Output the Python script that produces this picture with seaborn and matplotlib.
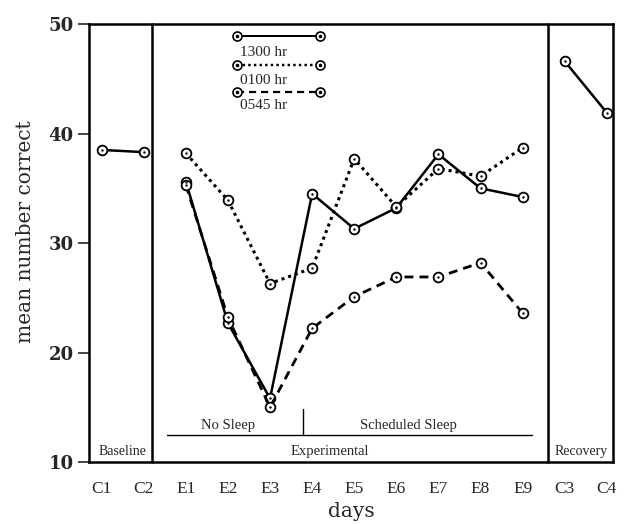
import matplotlib
matplotlib.use("Agg")
import matplotlib.pyplot as plt
import seaborn as sns
import numpy as np
import pandas as pd

# ---------------- data ----------------
days = ["C1", "C2", "E1", "E2", "E3", "E4", "E5", "E6", "E7", "E8", "E9", "C3", "C4"]
baseline_days = ["C1", "C2"]
baseline_vals = [38.5, 38.3]
recovery_days = ["C3", "C4"]
recovery_vals = [46.6, 41.9]
exp_days = ["E1", "E2", "E3", "E4", "E5", "E6", "E7", "E8", "E9"]
s1300 = [35.6, 22.7, 15.8, 34.5, 31.3, 33.2, 38.1, 35.0, 34.2]
s0100 = [38.2, 33.9, 26.3, 27.7, 37.7, 33.3, 36.8, 36.1, 38.7]
s0545 = [35.3, 23.2, 15.0, 22.2, 25.1, 26.9, 26.9, 28.2, 23.6]
series_labels = ["1300 hr", "0100 hr", "0545 hr"]
y_ticks = [10, 20, 30, 40, 50]

# ---------------- style ----------------
sns.set_style("white")
plt.rcParams["font.family"] = ["Liberation Serif", "DejaVu Serif"]

fig = plt.figure(figsize=(6.25, 5.24), dpi=100)
ax = fig.add_axes([0.1424, 0.1183, 0.8386, 0.8359])

pos = {d: i for i, d in enumerate(days)}

styles = {
    "1300 hr": dict(linestyle="-", lw=1.8),
    "0100 hr": dict(linestyle=(0, (1, 1.3)), lw=2.2),
    "0545 hr": dict(linestyle=(0, (3.2, 2.2)), lw=2.0),
}

def draw(xs, ys, ls, lw):
    df = pd.DataFrame({"x": [pos[d] for d in xs], "y": ys})
    sns.lineplot(data=df, x="x", y="y", ax=ax, color="black", linestyle=ls, lw=lw,
                 marker="o", markersize=7, markerfacecolor="white",
                 markeredgecolor="black", markeredgewidth=1.3, sort=False,
                 estimator=None, zorder=3)
    sns.scatterplot(data=df, x="x", y="y", ax=ax, color="black", s=3,
                    linewidth=0, zorder=4)

draw(baseline_days, baseline_vals, "-", 1.8)
draw(recovery_days, recovery_vals, "-", 1.8)
for lab, vals in zip(series_labels, [s1300, s0100, s0545]):
    draw(exp_days, vals, styles[lab]["linestyle"], styles[lab]["lw"])

ax.set_xlim(-0.3, 12.15)
ax.set_ylim(10, 50)
ax.set_xticks(range(len(days)))
ax.set_xticklabels(days, fontsize=12.5)
ax.set_yticks(y_ticks)
ax.set_yticklabels([str(t) for t in y_ticks], fontsize=13, fontweight="bold",
                   family="DejaVu Serif")
ax.tick_params(axis="x", length=0, pad=14)
ax.tick_params(axis="y", length=8, width=1.2, pad=3, left=True, direction="out")

for sp in ax.spines.values():
    sp.set_color("black")
    sp.set_linewidth(1.8)

ax.set_xlabel("days", fontsize=14.5, family="DejaVu Serif")
ax.xaxis.set_label_coords(0.5, -0.092)
ax.set_ylabel("mean number correct", fontsize=14.5, family="DejaVu Serif")
ax.yaxis.set_label_coords(-0.103, 0.527)

# section dividers
for xf in [0.120, 0.876]:
    ax.plot([xf, xf], [0, 1], transform=ax.transAxes, color="black", lw=1.8,
            clip_on=False)

# condition annotation
ax.plot([0.149, 0.845], [0.062, 0.062], transform=ax.transAxes, color="black", lw=1.0)
ax.plot([0.408, 0.408], [0.062, 0.121], transform=ax.transAxes, color="black", lw=1.0)
ax.text(0.265, 0.084, "No Sleep", transform=ax.transAxes, ha="center", va="center", fontsize=10.5)
ax.text(0.609, 0.084, "Scheduled Sleep", transform=ax.transAxes, ha="center", va="center", fontsize=10.5)
ax.text(0.46, 0.025, "Experimental", transform=ax.transAxes, ha="center", va="center", fontsize=10.5)
ax.text(0.063, 0.025, "Baseline", transform=ax.transAxes, ha="center", va="center", fontsize=10)
ax.text(0.939, 0.025, "Recovery", transform=ax.transAxes, ha="center", va="center", fontsize=10)

# key
key_y = [0.973, 0.906, 0.845]
txt_y = [0.936, 0.872, 0.813]
for lab, ly, ty in zip(series_labels, key_y, txt_y):
    st = styles[lab]
    ax.plot([0.282, 0.441], [ly, ly], transform=ax.transAxes, color="black",
            linestyle=st["linestyle"], lw=st["lw"] * 0.8, marker="o", markersize=6.5,
            markerfacecolor="white", markeredgecolor="black", markeredgewidth=1.2,
            clip_on=False, zorder=5)
    ax.plot([0.282, 0.441], [ly, ly], transform=ax.transAxes, linestyle="none",
            marker="o", markersize=1.6, color="black", clip_on=False, zorder=6)
    ax.text(0.288, ty, lab, transform=ax.transAxes, ha="left", va="center", fontsize=11)

fig.savefig("out.png", dpi=100)
